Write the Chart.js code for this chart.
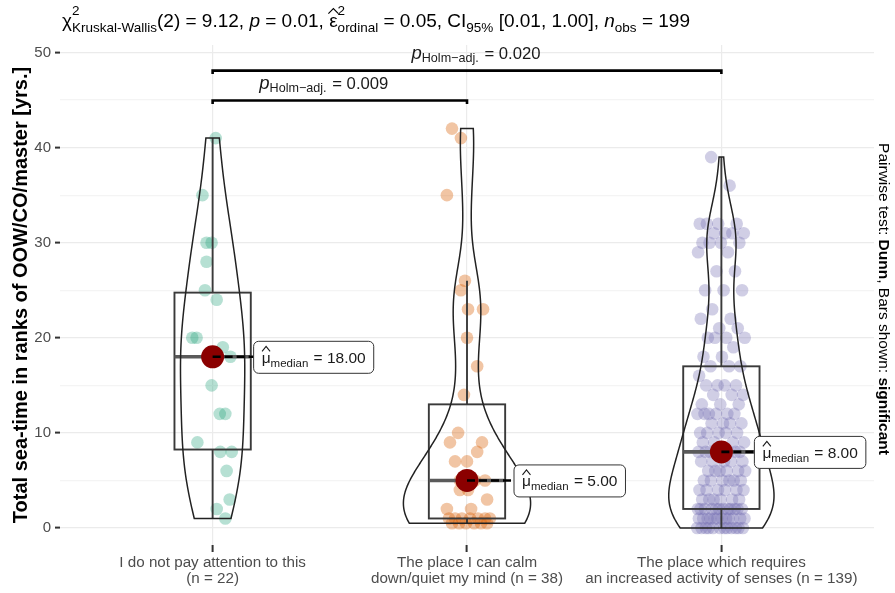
<!DOCTYPE html>
<html><head><meta charset="utf-8">
<script src="https://cdn.jsdelivr.net/npm/chart.js@4.4.1/dist/chart.umd.min.js"></script>
<style>html,body{margin:0;padding:0;background:#fff}#wrap{width:895px;height:593px;position:relative}</style>
</head><body><div id="wrap"><canvas id="c" width="895" height="593"></canvas></div>
<script>
// ---------------- DATA ----------------
const categories = [
  ["I do not pay attention to this", "(n = 22)"],
  ["The place I can calm", "down/quiet my mind (n = 38)"],
  ["The place which requires", "an increased activity of senses (n = 139)"]
];
const group1Values = [41,35,30,30,28,25,24,20,20,19,18,18,15,12,12,9,8,8,6,3,2,1];
const group1Jitter = [0.012,-0.04,-0.024,-0.004,-0.024,-0.03,0.016,-0.08,-0.063,0.04,0.07,-0.02,-0.004,0.028,0.05,-0.06,0.03,0.075,0.055,0.067,0.016,0.05];
const group2Values = [42,41,35,26,25,23,23,20,17,14,10,9,9,8,7,7,5,5,5,5,4,4,3,2,2,1,1,1,1,1,1,1,0.5,0.5,0.5,0.5,0.5,0.5];
const group2Jitter = [-0.059,-0.024,-0.079,-0.008,-0.024,0.004,0.063,0,0.04,-0.012,-0.035,-0.067,0.059,0.04,-0.047,0,0.071,-0.028,0.012,0.031,-0.028,0.004,0.079,-0.079,0.016,-0.071,-0.047,-0.02,0.012,0.043,0.071,0.09,-0.059,-0.031,-0.004,0.028,0.055,0.079];
const group3Values = [
  0,0,0,0,0,0,0,0,0,0,0,0,
  1,1,1,1,1,1,1,1,1,1,1,1,
  2,2,2,2,2,2,2,2,2,2,2,2,
  3,3,3,3,3,3, 4,4,4,4,4,4, 5,5,5,5,5,5, 6,6,6,6,6,6,
  7,7,7,7,7, 8,8,8,8,8,8,8,8, 9,9,9,9, 10,10,10,10,10, 11,11,11,11,
  12,12,12,12,12,12, 13,13,13, 14,14,14, 15,15,15,15, 16, 17,17,17,
  18,18, 19, 20,20,20,20, 21,21, 22,22, 23, 25,25,25, 27,27, 29,29,
  30,30,30,30, 31,31,31,31, 32,32,32,32, 36, 39
];
const yTicks = [0, 10, 20, 30, 40, 50];
const titleStats = { statistic: "9.12", df: "2", p: "0.01", effect: "0.05", ciLow: "0.01", ciHigh: "1.00", nObs: "199" };
const pairFrom = [1, 1];
const pairTo = [2, 3];
const pairP = ["0.009", "0.020"];
const pairBarY = [44.95, 48.1];

// ---------------- STYLE ----------------
const FONT = '"Liberation Sans", Arial, Helvetica, sans-serif';
const pointColors = ['rgba(27,158,119,0.32)', 'rgba(217,95,2,0.36)', 'rgba(117,112,179,0.34)'];
const labelOffsetPx = [41, 47, 33];
const pairLabelShiftPx = [-16, 9];
const groups = [group1Values, group2Values, group3Values];
const group3Jitter = group3Values.map((v, i) => (((i * 0.6180339887) % 1) - 0.5) * 0.19);
const jitters = [group1Jitter, group2Jitter, group3Jitter];

function f(size, style) { return (style ? style + ' ' : '') + size + 'px ' + FONT; }
function quantile(arr, p) {
  const s = arr.slice().sort((a, b) => a - b);
  const h = (s.length - 1) * p, lo = Math.floor(h), hi = Math.ceil(h);
  return s[lo] + (h - lo) * (s[hi] - s[lo]);
}
function sd(a) { const m = a.reduce((x, y) => x + y, 0) / a.length; return Math.sqrt(a.reduce((x, y) => x + (y - m) * (y - m), 0) / (a.length - 1)); }
function bwNrd0(a) {
  const lo = Math.min(sd(a), (quantile(a, .75) - quantile(a, .25)) / 1.34) || sd(a) || 1;
  return 0.9 * lo * Math.pow(a.length, -0.2);
}
function kde(a) {
  const bw = bwNrd0(a), mn = Math.min(...a), mx = Math.max(...a), out = [];
  for (let k = 0; k < 512; k++) {
    const x = mn + (mx - mn) * k / 511;
    let s = 0;
    for (const v of a) { const z = (x - v) / bw; s += Math.exp(-0.5 * z * z); }
    out.push({ y: x, d: s / (a.length * bw * Math.sqrt(2 * Math.PI)) });
  }
  return out;
}
function boxStats(a) {
  const q1 = quantile(a, .25), q3 = quantile(a, .75), med = quantile(a, .5), iqr = q3 - q1;
  const hiW = Math.max(...a.filter(v => v <= q3 + 1.5 * iqr));
  const loW = Math.min(...a.filter(v => v >= q1 - 1.5 * iqr));
  return { q1, q3, med, hiW, loW };
}

function segW(ctx, s) {
  ctx.font = f(s.size, s.style);
  if (s.sup !== undefined || s.sub !== undefined)
    return Math.max(s.sup ? ctx.measureText(s.sup).width : 0, s.sub ? ctx.measureText(s.sub).width : 0) + (s.pad || 0);
  return ctx.measureText(s.t).width;
}
function drawRich(ctx, x, y, segs, align) {
  const ws = segs.map(s => segW(ctx, s));
  const total = ws.reduce((a, b) => a + b, 0);
  let cx = align === 'center' ? x - total / 2 : align === 'right' ? x - total : x;
  ctx.textAlign = 'left'; ctx.textBaseline = 'alphabetic';
  segs.forEach((s, i) => {
    ctx.font = f(s.size, s.style);
    ctx.fillStyle = s.color || '#000';
    if (s.sup !== undefined || s.sub !== undefined) {
      if (s.sup) ctx.fillText(s.sup, cx, y + s.supDy);
      if (s.sub) ctx.fillText(s.sub, cx, y + s.subDy);
    } else {
      ctx.fillText(s.t, cx, y + (s.dy || 0));
      if (s.hat) {
        const mid = cx + ws[i] / 2, base = y - s.size * 0.55 - 3, hw = s.hatW || 4;
        ctx.beginPath(); ctx.lineWidth = 1.1; ctx.strokeStyle = s.color || '#000';
        ctx.moveTo(mid - hw, base); ctx.lineTo(mid, base - 5); ctx.lineTo(mid + hw, base); ctx.stroke();
      }
    }
    cx += ws[i];
  });
  return total;
}

const overlay = {
  id: 'overlay',
  afterDatasetsDraw(chart) {
    const ctx = chart.ctx, xs = chart.scales.x, ys = chart.scales.y;
    const X = v => xs.getPixelForValue(v), Y = v => ys.getPixelForValue(v);
    const dens = groups.map(kde);
    const maxD = Math.max(...dens.map(d => Math.max(...d.map(p => p.d))));
    ctx.save();
    groups.forEach((vals, gi) => {
      const c = gi + 1;
      const st = boxStats(vals);
      ctx.strokeStyle = '#3a3a3a'; ctx.lineWidth = 1.9;
      ctx.strokeRect(X(c - 0.15), Y(st.q3), X(c + 0.15) - X(c - 0.15), Y(st.q1) - Y(st.q3));
      ctx.beginPath();
      ctx.moveTo(X(c), Y(st.q3)); ctx.lineTo(X(c), Y(st.hiW));
      ctx.moveTo(X(c), Y(st.q1)); ctx.lineTo(X(c), Y(st.loW));
      ctx.stroke();
      ctx.beginPath(); ctx.lineWidth = 3.6; ctx.strokeStyle = '#5a5a5a';
      ctx.moveTo(X(c - 0.15), Y(st.med)); ctx.lineTo(X(c + 0.15), Y(st.med)); ctx.stroke();
      const d = dens[gi];
      ctx.beginPath(); ctx.lineWidth = 1.5; ctx.strokeStyle = '#222';
      d.forEach((p, k) => { const px = X(c - 0.25 * p.d / maxD); k ? ctx.lineTo(px, Y(p.y)) : ctx.moveTo(px, Y(p.y)); });
      for (let k = d.length - 1; k >= 0; k--) ctx.lineTo(X(c + 0.25 * d[k].d / maxD), Y(d[k].y));
      ctx.closePath(); ctx.stroke();
    });
    groups.forEach((vals, gi) => {
      const c = gi + 1, med = quantile(vals, .5);
      const cx = X(c), cy = Y(med);
      ctx.fillStyle = '#8B0000';
      ctx.beginPath(); ctx.arc(cx, cy, 11.5, 0, Math.PI * 2); ctx.fill();
      const segs = [
        { t: 'μ', size: 15.5, hat: true, color: '#1a1a1a' },
        { sub: 'median', size: 11.5, subDy: 4, pad: 1, color: '#1a1a1a' },
        { t: ' = ' + med.toFixed(2), size: 15.5, color: '#1a1a1a' }
      ];
      const tw = segs.map(s => segW(ctx, s)).reduce((a, b) => a + b, 0);
      const lx = cx + labelOffsetPx[gi], w = tw + 16, h = 32, top = cy - h / 2 + 0.5;
      ctx.setLineDash([8, 4]); ctx.strokeStyle = '#000'; ctx.lineWidth = 2.6;
      ctx.beginPath(); ctx.moveTo(cx, cy); ctx.lineTo(lx, cy); ctx.stroke();
      ctx.setLineDash([]);
      ctx.beginPath(); ctx.roundRect(lx, top, w, h, 5);
      ctx.fillStyle = '#fff'; ctx.fill(); ctx.lineWidth = 1; ctx.strokeStyle = '#333'; ctx.stroke();
      drawRich(ctx, lx + 8, top + h / 2 + 5.5, segs, 'left');
    });
    pairFrom.forEach((a, i) => {
      const b = pairTo[i], y = Y(pairBarY[i]);
      ctx.strokeStyle = '#000'; ctx.lineWidth = 2.6;
      ctx.beginPath();
      ctx.moveTo(X(a), y + 3.5); ctx.lineTo(X(a), y); ctx.lineTo(X(b), y); ctx.lineTo(X(b), y + 3.5);
      ctx.stroke();
      const mid = (X(a) + X(b)) / 2 + pairLabelShiftPx[i];
      drawRich(ctx, mid, y - 12, [
        { t: 'p', size: 18.5, style: 'italic', color: '#1a1a1a' },
        { sub: 'Holm\u2212adj.', size: 12.6, subDy: 3, pad: 1, color: '#1a1a1a' },
        { t: ' = ' + pairP[i], size: 16.7, color: '#1a1a1a' }
      ], 'center');
    });
    ctx.restore();
  },
  afterDraw(chart) {
    const ctx = chart.ctx;
    ctx.save();
    const T = titleStats, M = 19, S = 13.5;
    drawRich(ctx, 62, 27, [
      { t: 'χ', size: M },
      { sup: '2', sub: 'Kruskal-Wallis', size: S, supDy: -12, subDy: 5 },
      { t: '(' + T.df + ') = ' + T.statistic + ', ', size: M },
      { t: 'p', size: M, style: 'italic' },
      { t: ' = ' + T.p + ', ', size: M },
      { t: 'ε', size: M, hat: true, hatW: 5 },
      { sup: '2', sub: 'ordinal', size: S, supDy: -12, subDy: 5 },
      { t: ' = ' + T.effect + ', CI', size: M },
      { sub: '95%', size: S, subDy: 5 },
      { t: ' [' + T.ciLow + ', ' + T.ciHigh + '], ', size: M },
      { t: 'n', size: M, style: 'italic' },
      { sub: 'obs', size: S, subDy: 5 },
      { t: ' = ' + T.nObs, size: M }
    ], 'left');
    ctx.translate(884, 299);
    ctx.rotate(Math.PI / 2);
    drawRich(ctx, 0, 5.5, [
      { t: 'Pairwise test: ', size: 15.5 },
      { t: 'Dunn', size: 15.5, style: 'bold' },
      { t: ', Bars shown: ', size: 15.5 },
      { t: 'significant', size: 15.5, style: 'bold' }
    ], 'center');
    ctx.restore();
  }
};

const datasets = groups.map((vals, gi) => ({
  data: vals.map((v, i) => ({ x: gi + 1 + jitters[gi][i], y: v })),
  backgroundColor: pointColors[gi],
  borderWidth: 0,
  pointRadius: 6.3,
  pointHoverRadius: 6.3
}));

new Chart(document.getElementById('c'), {
  type: 'scatter',
  data: { datasets },
  plugins: [overlay],
  options: {
    responsive: false,
    animation: false,
    events: [],
    layout: { padding: { left: 0, right: 21, top: 45, bottom: 0 } },
    plugins: { legend: { display: false }, tooltip: { enabled: false } },
    scales: {
      x: {
        type: 'linear', min: 0.4, max: 3.6,
        afterBuildTicks: s => { s.ticks = categories.map((c, i) => ({ value: i + 1 })); },
        afterFit: s => { s.height = 48; },
        border: { display: false },
        grid: { color: '#EBEBEB', lineWidth: 1.2, tickColor: '#333', tickLength: 7, tickWidth: 2 },
        ticks: {
          callback: v => categories[Math.round(v) - 1],
          color: '#4D4D4D', font: { family: FONT, size: 15.2, lineHeight: 1.05 },
          maxRotation: 0, autoSkip: false, padding: 3
        }
      },
      y: {
        type: 'linear', min: -1.79, max: 50.79,
        afterFit: s => { s.width = 60; },
        border: { display: false },
        grid: {
          color: c => (yTicks.includes(c.tick.value) ? '#EBEBEB' : '#F4F4F4'),
          lineWidth: 1.2,
          tickColor: c => (yTicks.includes(c.tick.value) ? '#333' : 'rgba(0,0,0,0)'),
          tickLength: 5, tickWidth: 2
        },
        ticks: {
          stepSize: 5, includeBounds: false,
          callback: v => (yTicks.includes(v) ? String(v) : ''),
          color: '#4D4D4D', font: { family: FONT, size: 15 }, padding: 4
        },
        title: {
          display: true, text: 'Total sea-time in ranks of OOW/CO/master [yrs.]',
          color: '#000', font: { family: FONT, size: 20, weight: 'bold' }, padding: { top: 9, bottom: 0 }
        }
      }
    }
  }
});
</script>
</body></html>
